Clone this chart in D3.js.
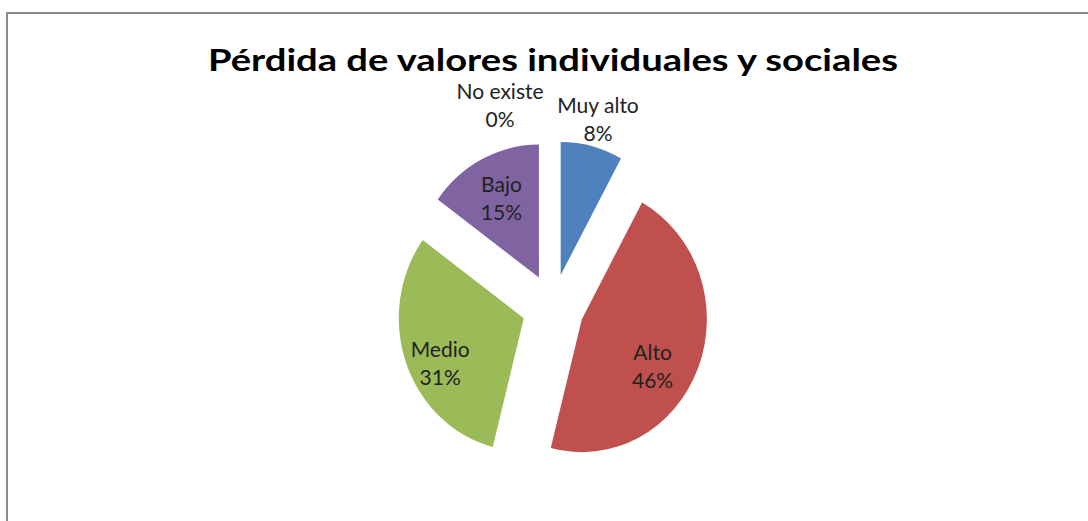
<!DOCTYPE html>
<html>
<head>
<meta charset="utf-8">
<script src="https://cdn.jsdelivr.net/npm/d3@7"></script>
<style>
  html, body { margin: 0; padding: 0; background: #fff; overflow: hidden; }
  text { font-family: Lato, "Noto Sans", sans-serif; }
</style>
</head>
<body>
<div id="chart"></div>
<script>
// chart data
var title = "Pérdida de valores individuales y sociales";
var categories = ["Muy alto", "Alto", "Medio", "Bajo", "No existe"];
var percents = [8, 46, 31, 15, 0];
var colors = ["#4F81BD", "#C0504D", "#9BBB59", "#8064A2", "#4BACC6"];

var width = 1088, height = 521;
var cx = 553, cy = 307;          // pie centre
var radius = 133, explode = 33;  // slice radius and explosion offset
var squash = 0.94;               // the original pie is slightly narrower than tall

var svg = d3.select("#chart")
    .append("svg")
    .attr("width", width)
    .attr("height", height);

// outer frame
svg.append("rect")
    .attr("x", 7)
    .attr("y", 13)
    .attr("width", width + 20)
    .attr("height", height + 20)
    .attr("fill", "none")
    .attr("stroke", "#8c8c8c")
    .attr("stroke-width", 2);

svg.append("text")
    .attr("x", cx)
    .attr("y", 71)
    .attr("text-anchor", "middle")
    .attr("font-size", 31)
    .attr("font-weight", "bold")
    .attr("fill", "#000")
    .attr("textLength", 690)
    .attr("lengthAdjust", "spacingAndGlyphs")
    .text(title);

var data = categories.map((c, i) => ({name: c, value: percents[i], color: colors[i]}));

var pie = d3.pie()
    .sort(null)
    .value(d => d.value);

var arc = d3.arc()
    .innerRadius(0)
    .outerRadius(radius);

var arcs = pie(data);
var mid = d => (d.startAngle + d.endAngle) / 2;
var dir = a => [Math.sin(a), -Math.cos(a)];

var slices = svg.append("g")
    .attr("transform", `translate(${cx},${cy}) scale(${squash},1)`);

slices.selectAll("path")
  .data(arcs.filter(d => d.value > 0))
  .join("path")
    .attr("fill", d => d.data.color)
    .attr("transform", d => {
      var v = dir(mid(d));
      return `translate(${v[0] * explode},${v[1] * explode})`;
    })
    .attr("d", arc);

// data labels: inside for big slices, outside for small ones
var labels = svg.append("g")
    .attr("font-size", 21)
    .attr("fill", "#222");

arcs.forEach(d => {
  var v = dir(mid(d));
  var outside = d.value < 10;
  var r = outside ? radius * 1.2 : radius * 0.66;
  var x = cx + squash * v[0] * (explode + r);
  var y = cy + v[1] * (explode + r);
  var t = labels.append("text")
      .attr("text-anchor", "middle");
  if (!outside && v[1] > 0) { x -= 6; y += 16; }
  if (d.value === 0) {
    // zero slice: label pushed to the left of the top edge
    x -= 53; y -= 8;
  }
  t.append("tspan")
      .attr("x", x)
      .attr("y", y - 7)
      .text(d.data.name);
  t.append("tspan")
      .attr("x", x)
      .attr("y", y + 21)
      .text(d.data.value + "%");
});
</script>
</body>
</html>
